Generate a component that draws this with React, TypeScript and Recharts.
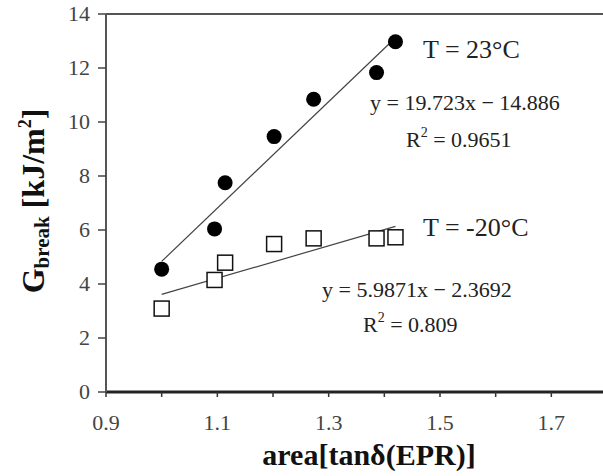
import React from "react";
import {
  ComposedChart,
  Scatter,
  XAxis,
  YAxis,
  ReferenceLine,
} from "recharts";

// T = 23°C (filled circles)
const warmX = [1.0, 1.095, 1.114, 1.202, 1.273, 1.386, 1.42];
const warmY = [4.55, 6.04, 7.75, 9.46, 10.84, 11.83, 12.97];

// T = -20°C (open squares)
const coldX = [1.0, 1.095, 1.114, 1.202, 1.273, 1.386, 1.42];
const coldY = [3.09, 4.15, 4.79, 5.48, 5.69, 5.69, 5.73];

// linear fits as printed on the chart
const warmFit = { slope: 19.723, intercept: -14.886, from: 1.0, to: 1.42 };
const coldFit = { slope: 5.9871, intercept: -2.3692, from: 1.0, to: 1.42 };

const xTicks = [0.9, 1.0, 1.1, 1.2, 1.3, 1.4, 1.5, 1.6, 1.7, 1.8];
const xLabelTicks = ["0.9", "1.1", "1.3", "1.5", "1.7"];
const yTicks = [0, 2, 4, 6, 8, 10, 12, 14];

const warmData = warmX.map((x, i) => ({ x, y: warmY[i] }));
const coldData = coldX.map((x, i) => ({ x, y: coldY[i] }));

const fitSegment = (f: typeof warmFit) => [
  { x: f.from, y: f.slope * f.from + f.intercept },
  { x: f.to, y: f.slope * f.to + f.intercept },
];

const FONT = "'Liberation Serif', 'Times New Roman', serif";

const Dot = (props: any) => {
  const { cx, cy } = props;
  if (cx == null || cy == null) return null;
  return <circle cx={cx} cy={cy} r={7.5} fill="#000" />;
};

const Box = (props: any) => {
  const { cx, cy } = props;
  if (cx == null || cy == null) return null;
  return (
    <rect
      x={cx - 7.5}
      y={cy - 7.5}
      width={15}
      height={15}
      fill="#fff"
      stroke="#111"
      strokeWidth={1.5}
    />
  );
};

const XTick = (props: any) => {
  const { x, y, payload } = props;
  const s = Number(payload.value).toFixed(1);
  if (!xLabelTicks.includes(s)) return null;
  return (
    <text
      x={x}
      y={y + 31}
      textAnchor="middle"
      fontSize={22}
      fill="#444"
      style={{ fontFamily: FONT }}
    >
      {s}
    </text>
  );
};

const YTick = (props: any) => {
  const { x, y, payload } = props;
  return (
    <text
      x={x - 6}
      y={y + 7}
      textAnchor="end"
      fontSize={22}
      fill="#444"
      style={{ fontFamily: FONT }}
    >
      {payload.value}
    </text>
  );
};

export default function App() {
  return (
    <div
      style={{
        position: "absolute",
        left: 0,
        top: 0,
        width: 603,
        height: 476,
        overflow: "hidden",
        background: "#fff",
      }}
    >
      <ComposedChart
        width={610}
        height={476}
        margin={{ top: 14, right: 3, bottom: 0, left: 0 }}
      >
        <XAxis
          type="number"
          dataKey="x"
          domain={[0.9, 1.8]}
          ticks={xTicks}
          interval={0}
          height={84}
          tickSize={5}
          tick={<XTick />}
          axisLine={{ stroke: "#222", strokeWidth: 3 }}
          tickLine={{ stroke: "#333", strokeWidth: 1.5 }}
        />
        <YAxis
          type="number"
          dataKey="y"
          domain={[0, 14]}
          ticks={yTicks}
          interval={0}
          width={106}
          tickSize={8}
          tick={<YTick />}
          axisLine={{ stroke: "#555", strokeWidth: 2 }}
          tickLine={{ stroke: "#444", strokeWidth: 1.5 }}
        />
        <ReferenceLine y={14} stroke="#555" strokeWidth={2} />
        <ReferenceLine x={1.8} stroke="#555" strokeWidth={2} />
        <ReferenceLine
          segment={fitSegment(warmFit)}
          stroke="#444"
          strokeWidth={1.2}
          ifOverflow="visible"
        />
        <ReferenceLine
          segment={fitSegment(coldFit)}
          stroke="#444"
          strokeWidth={1.2}
          ifOverflow="visible"
        />
        <Scatter data={warmData} shape={Dot} isAnimationActive={false} />
        <Scatter data={coldData} shape={Box} isAnimationActive={false} />

        <g fill="#222" style={{ fontFamily: FONT }}>
          <text x={423} y={58} fontSize={26}>
            T = 23°C
          </text>
          <text x={370} y={110} fontSize={22}>
            y = 19.723x − 14.886
          </text>
          <text x={406} y={147} fontSize={22}>
            R<tspan fontSize={14} dy={-10}>2</tspan>
            <tspan dy={10}> = 0.9651</tspan>
          </text>
          <text x={423} y={236} fontSize={26}>
            T = -20°C
          </text>
          <text x={322} y={297} fontSize={22}>
            y = 5.9871x − 2.3692
          </text>
          <text x={363} y={332} fontSize={22}>
            R<tspan fontSize={14} dy={-10}>2</tspan>
            <tspan dy={10}> = 0.809</tspan>
          </text>

          <text
            x={369}
            y={465}
            fontSize={30}
            fontWeight="bold"
            textAnchor="middle"
            fill="#111"
            style={{ fontFamily: FONT }}
          >
            area[tanδ(EPR)]
          </text>
          <text
            transform="rotate(-90)"
            x={-201}
            y={44}
            fontSize={32}
            fontWeight="bold"
            textAnchor="middle"
            fill="#111"
            style={{ fontFamily: FONT }}
          >
            G<tspan fontSize={21} dy={5}>break</tspan>
            <tspan dy={-5}> [kJ/m</tspan>
            <tspan fontSize={18} dy={-13}>2</tspan>
            <tspan dy={13}>]</tspan>
          </text>
        </g>
      </ComposedChart>
    </div>
  );
}
